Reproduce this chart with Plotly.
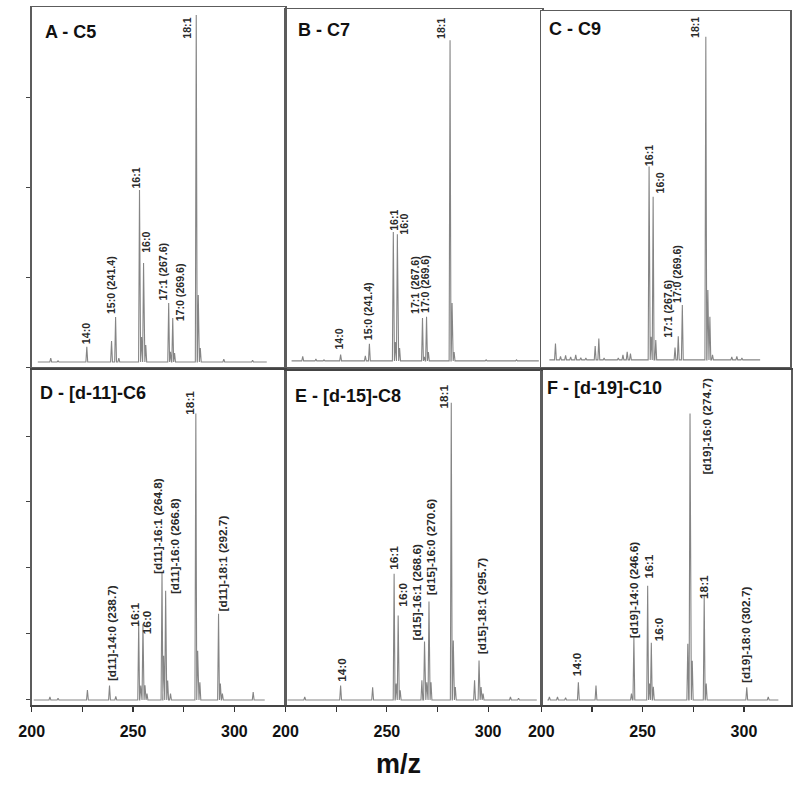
import plotly.graph_objects as go

# ---------------- data ----------------
# m/z of each peak and its relative intensity (% of panel height)
A_mz = [209.4, 213.0, 227.2, 239.4, 241.4, 243.0, 253.2, 254.2, 255.2, 256.3, 267.6, 268.5,
        269.6, 270.5, 281.2, 282.2, 283.2, 294.8, 309.0]
A_int = [2.5, 1.7, 5.6, 7.2, 13.9, 2.5, 49.2, 8.3, 28.9, 6.1, 17.8, 4.2,
         13.6, 3.9, 97.8, 20.0, 5.3, 2.2, 1.9]
A_label_text = ["14:0", "15:0 (241.4)", "16:1", "16:0", "17:1 (267.6)", "17:0 (269.6)", "18:1"]
A_label_mz = [227.2, 241.4, 253.2, 255.2, 267.6, 269.6, 281.2]

B_mz = [208.5, 215.0, 219.0, 227.2, 239.4, 241.4, 253.2, 254.2, 255.2, 256.3, 267.6, 268.5,
        269.6, 270.5, 281.2, 282.2, 283.2, 299.0, 314.0]
B_int = [3.0, 2.2, 2.0, 3.5, 3.1, 6.5, 37.7, 7.0, 37.1, 5.3, 13.7, 2.8,
         14.0, 4.2, 91.3, 17.9, 4.2, 2.0, 2.0]
B_label_text = ["14:0", "15:0 (241.4)", "16:1", "16:0", "17:1 (267.6)", "17:0 (269.6)", "18:1"]
B_label_mz = [227.2, 241.4, 253.2, 255.2, 267.6, 269.6, 281.2]

C_mz = [207.0, 209.5, 212.0, 214.5, 217.0, 219.5, 222.0, 226.6, 228.4, 231.0, 238.0, 240.3,
        242.4, 244.0, 253.2, 254.2, 255.2, 256.5, 266.0, 267.6, 269.6, 281.2, 282.2, 283.2,
        284.5, 294.0, 296.5, 299.0]
C_int = [6.6, 3.0, 3.3, 2.8, 3.4, 2.6, 2.5, 5.9, 8.0, 2.5, 2.5, 3.4,
         4.3, 3.8, 56.3, 8.5, 47.8, 7.6, 5.5, 8.6, 17.4, 92.8, 21.6, 14.1,
         3.4, 2.8, 3.0, 2.5]
C_label_text = ["16:1", "16:0", "17:1 (267.6)", "17:0 (269.6)", "18:1"]
C_label_mz = [253.2, 255.2, 267.6, 269.6, 281.2]

D_mz = [209.0, 213.0, 227.5, 238.4, 241.5, 252.8, 253.8, 254.9, 255.9, 256.9, 264.3, 265.1,
        266.1, 267.1, 268.5, 281.0, 281.9, 283.0, 292.2, 293.1, 294.1, 309.3]
D_int = [2.4, 2.0, 4.5, 5.8, 2.6, 24.4, 5.8, 24.1, 5.9, 3.4, 39.6, 14.7,
         34.1, 7.3, 3.4, 87.0, 16.2, 6.8, 27.2, 6.4, 3.4, 3.9]
D_label_text = ["[d11]-14:0 (238.7)", "16:1", "16:0", "[d11]-16:1 (264.8)",
                "[d11]-16:0 (266.8)", "18:1", "[d11]-18:1 (292.7)"]
D_label_mz = [238.4, 252.8, 254.9, 264.3, 266.1, 281.0, 292.2]

E_mz = [209.5, 227.2, 243.0, 253.6, 254.6, 255.6, 256.6, 267.3, 268.6, 269.7, 270.8, 271.8,
        281.8, 282.8, 283.8, 293.3, 295.5, 296.5, 297.5, 311.0, 315.0]
E_int = [2.4, 5.8, 5.3, 39.3, 6.4, 26.8, 4.4, 7.4, 19.0, 6.8, 31.0, 6.8,
         90.5, 19.3, 5.4, 7.4, 13.3, 5.4, 3.4, 2.4, 2.0]
E_label_text = ["14:0", "16:1", "16:0", "[d15]-16:1 (268.6)", "[d15]-16:0 (270.6)",
                "18:1", "[d15]-18:1 (295.7)"]
E_label_mz = [227.2, 253.6, 255.6, 268.6, 270.8, 281.8, 295.5]

F_mz = [204.0, 208.0, 212.0, 218.3, 227.0, 244.5, 245.7, 252.5, 253.4, 254.3, 255.3, 272.3,
        273.4, 274.5, 280.4, 281.4, 301.4, 312.0]
F_int = [2.4, 2.4, 2.2, 6.8, 5.8, 3.4, 20.2, 35.6, 6.4, 18.6, 5.4, 18.3,
         87.0, 13.2, 32.6, 6.4, 5.3, 2.4]
F_label_text = ["14:0", "[d19]-14:0 (246.6)", "16:1", "16:0", "[d19]-16:0 (274.7)",
                "18:1", "[d19]-18:0 (302.7)"]
F_label_mz = [218.3, 245.7, 252.5, 254.3, 273.4, 280.4, 301.4]

panel_titles = ["A - C5", "B - C7", "C - C9", "D - [d-11]-C6", "E - [d-15]-C8", "F - [d-19]-C10"]
# baseline (noise floor) level and m/z span of each recorded trace
floor_level = [1.4, 1.7, 2.0, 1.5, 1.5, 1.5]
trace_start = [203.0, 203.0, 204.0, 201.0, 201.0, 203.0]
trace_end = [316.0, 325.0, 308.0, 315.0, 324.0, 317.0]
x_tick_vals = [200, 225, 250, 275, 300]
x_tick_text = ["200", "", "250", "", "300"]
x_title = "m/z"

# ---------------- layout / style ----------------
W, H = 800, 785


def px(xp):
    return min(1.0, max(0.0, xp / W))


def py(yp):
    return min(1.0, max(0.0, 1 - yp / H))


# pixel boxes of each panel: (left, right, top, bottom)
boxes = [(19, 277, 7, 367), (277, 538, 9, 367), (537, 790, 11, 367),
         (19, 277, 370, 705), (277, 537, 371, 705), (537, 791, 370, 705)]
PX_PER_MZ = 2.06
title_pos = [(30, 32.5), (288, 30.5), (543, 29.5), (25, 392.5), (285, 395.5), (541, 387.5)]
# label offsets in px (dx, lift above the peak top)
label_dx = {
    0: [0, -4.5, -3.3, 2.8, -6, 7.5, -9],
    1: [-2, -2, 0, 6.7, -7.5, -1.5, -9.7],
    2: [0, 7, -10, -5.5, -11],
    3: [2, -3.3, 4, -3.4, 8.7, -6.7, 4],
    4: [0.6, 0, 5, -7.6, 2.8, -7.4, 2.6],
    5: [-1.4, 0, 1, 7.2, 17, 0, -1],
}
label_lift = {
    0: [4, 4, 2, 11, 3, -2, -23],
    1: [6, 5, 2, 0, 5, 5, 2],
    2: [1, 4, 0, 3, 0],
    3: [5, -2, -9, -1, -2, 0, 3],
    4: [5, 5, 10, 2, 7, -5, 7],
    5: [7, 0, 8, 2, -60, -2, 5],
}

data_sets = [
    (A_mz, A_int, A_label_text, A_label_mz),
    (B_mz, B_int, B_label_text, B_label_mz),
    (C_mz, C_int, C_label_text, C_label_mz),
    (D_mz, D_int, D_label_text, D_label_mz),
    (E_mz, E_int, E_label_text, E_label_mz),
    (F_mz, F_int, F_label_text, F_label_mz),
]

LINE_GRAY = "#858585"
BORDER = "#5c5c5c"
FONT = "Arial, Liberation Sans, Helvetica, sans-serif"

fig = go.Figure()
annotations = []

for i, (mz, inten, ltext, lmz) in enumerate(data_sets):
    n = i + 1
    xa = "x" if n == 1 else f"x{n}"
    ya = "y" if n == 1 else f"y{n}"
    fl = floor_level[i]
    xs, ys = [trace_start[i]], [fl]
    for m, h in sorted(zip(mz, inten)):
        xs += [m - 0.45, m, m + 0.45]
        ys += [fl, h, fl]
    xs.append(trace_end[i])
    ys.append(fl)
    fig.add_trace(go.Scatter(x=xs, y=ys, mode="lines", xaxis=xa, yaxis=ya,
                             line=dict(color=LINE_GRAY, width=1.1), hoverinfo="skip",
                             showlegend=False))

    left, right, top, bottom = boxes[i]
    xmax = 200 + (right - left) / PX_PER_MZ
    bottom_row = i >= 3
    xaxis = dict(domain=[px(left), px(right)], range=[200, xmax], anchor=ya,
                 showline=True, mirror=True, linecolor=BORDER, linewidth=1.5,
                 showgrid=False, zeroline=False, fixedrange=True)
    if bottom_row:
        xaxis.update(tickmode="array", tickvals=x_tick_vals, ticktext=x_tick_text,
                     ticks="outside", ticklen=5, tickwidth=1.2, tickcolor="#333",
                     linecolor="#444", linewidth=2, ticklabelstandoff=6,
                     tickfont=dict(family=FONT, size=16, color="#111", weight="bold"))
    else:
        xaxis.update(showticklabels=False, ticks="")
    yaxis = dict(domain=[py(bottom), py(top)], range=[0, 100], anchor=xa,
                 showline=True, mirror=True, linecolor=BORDER, linewidth=1.5,
                 showgrid=False, zeroline=False, showticklabels=False, fixedrange=True)
    if i == 0:
        yaxis.update(tickmode="array", tickvals=[0, 25, 50, 75], ticks="outside",
                     ticklen=4, tickcolor="#444")
    elif i == 3:
        yaxis.update(tickmode="array", tickvals=[1.5, 21.2, 40.9, 60.6, 80.3],
                     ticks="outside", ticklen=4, tickcolor="#444")
    else:
        yaxis.update(ticks="")
    fig.layout[f"xaxis{'' if n == 1 else n}"] = xaxis
    fig.layout[f"yaxis{'' if n == 1 else n}"] = yaxis

    # panel title
    tx, ty = title_pos[i]
    annotations.append(dict(text=f"<b>{panel_titles[i]}</b>", xref="paper", yref="paper",
                            x=px(tx), y=py(ty), xanchor="left", yanchor="middle",
                            showarrow=False, font=dict(family=FONT, size=18, color="#111")))

    # peak labels
    lookup = dict(zip(mz, inten))
    fsize = 11.8 if bottom_row else 10.6
    for j, (t, m) in enumerate(zip(ltext, lmz)):
        annotations.append(dict(text=t, x=m, y=lookup[m], xref=xa, yref=ya,
                                textangle=-90, xanchor="center", yanchor="bottom",
                                xshift=label_dx[i][j], yshift=label_lift[i][j] - 2,
                                showarrow=False, borderpad=0,
                                font=dict(family=FONT, size=fsize, color="#2a2a2a",
                                          weight="bold")))

annotations.append(dict(text=f"<b>{x_title}</b>", xref="paper", yref="paper",
                        x=px(392), y=py(764), xanchor="center", yanchor="middle",
                        showarrow=False,
                        font=dict(family="Liberation Sans Narrow, Arial Narrow, " + FONT,
                                  size=27, color="#111")))

fig.update_layout(width=W, height=H, margin=dict(l=0, r=0, t=0, b=0),
                  paper_bgcolor="white", plot_bgcolor="white",
                  annotations=annotations, showlegend=False)

# remove the browser's default 8 px body margin so the figure sits at the page origin
fig.write_html("out.html",
               config={"displayModeBar": False, "staticPlot": True},
               post_script="document.body.style.margin='0';"
                           "document.body.style.overflow='hidden';")
